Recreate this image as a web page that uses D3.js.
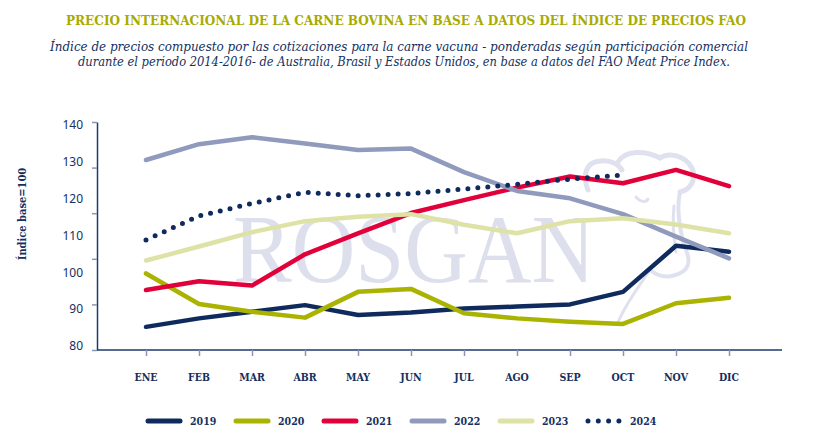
<!DOCTYPE html>
<html>
<head>
<meta charset="utf-8">
<script src="https://cdn.jsdelivr.net/npm/d3@7"></script>
<style>
  body { margin: 0; background: #fff; }
  svg text { fill: #14305f; }
</style>
</head>
<body>
<script>
var months = ["ENE","FEB","MAR","ABR","MAY","JUN","JUL","AGO","SEP","OCT","NOV","DIC"];
var yTicks = [80, 90, 100, 110, 120, 130, 140];

var s2019 = [85.2, 87.5, 89.3, 91.1, 88.4, 89.1, 90.2, 90.7, 91.3, 94.7, 107.2, 105.6];
var s2020 = [99.7, 91.4, 89.3, 87.7, 94.7, 95.5, 88.9, 87.5, 86.6, 86.0, 91.6, 93.1];
var s2021 = [95.2, 97.6, 96.4, 104.9, 110.6, 116.1, 119.6, 123.0, 126.0, 124.2, 127.8, 123.4];
var s2022 = [130.5, 134.8, 136.7, 135.0, 133.2, 133.6, 127.2, 122.1, 120.1, 115.8, 109.7, 103.8];
var s2023 = [103.2, 107.0, 110.9, 113.9, 115.1, 115.8, 112.9, 110.6, 113.9, 114.7, 113.0, 110.6];
var s2024 = [108.8, 115.3, 118.7, 121.7, 120.8, 121.4, 122.6, 123.9, 125.3, 126.4];

var series = [
  {name: "2019", values: s2019, color: "#0f2b5e", dotted: false},
  {name: "2020", values: s2020, color: "#a9b300", dotted: false},
  {name: "2021", values: s2021, color: "#e2003b", dotted: false},
  {name: "2022", values: s2022, color: "#8f9abd", dotted: false},
  {name: "2023", values: s2023, color: "#dfe2a6", dotted: false},
  {name: "2024", values: s2024, color: "#0f2b5e", dotted: true}
];

var width = 817, height = 440;

var svg = d3.select("body").append("svg")
    .attr("width", width)
    .attr("height", height);

// titles
svg.append("text")
    .attr("x", 406).attr("y", 25)
    .attr("text-anchor", "middle")
    .attr("textLength", 680).attr("lengthAdjust", "spacingAndGlyphs")
    .style("font-family", "DejaVu Serif Condensed, DejaVu Serif")
    .style("font-weight", "bold")
    .style("font-size", "13.5px")
    .style("fill", "#a7ab00")
    .text("PRECIO INTERNACIONAL DE LA CARNE BOVINA EN BASE A DATOS DEL ÍNDICE DE PRECIOS FAO");

svg.append("text")
    .attr("x", 399).attr("y", 51)
    .attr("text-anchor", "middle")
    .attr("textLength", 698).attr("lengthAdjust", "spacingAndGlyphs")
    .style("font-family", "DejaVu Serif Condensed, DejaVu Serif")
    .style("font-style", "italic")
    .style("font-size", "13px")
    .text("Índice de precios compuesto por las cotizaciones para la carne vacuna - ponderadas según participación comercial");

svg.append("text")
    .attr("x", 404).attr("y", 66)
    .attr("text-anchor", "middle")
    .attr("textLength", 652).attr("lengthAdjust", "spacingAndGlyphs")
    .style("font-family", "DejaVu Serif Condensed, DejaVu Serif")
    .style("font-style", "italic")
    .style("font-size", "13px")
    .text("durante el periodo 2014-2016- de Australia, Brasil y Estados Unidos, en base a datos del FAO Meat Price Index.");

// scales
var x = d3.scalePoint().domain(months).range([146, 729]);
var y = d3.scaleLinear().domain([80, 140]).range([346, 125]);
var tickPos = d3.scaleLinear().domain([0, 5]).range([350, 122]);

// watermark
var wm = svg.append("g").attr("class", "watermark")
    .attr("fill", "none")
    .attr("stroke", "#dfe2ee")
    .attr("stroke-linecap", "round");
wm.append("text")
    .attr("x", 233).attr("y", 282)
    .attr("textLength", 362).attr("lengthAdjust", "spacingAndGlyphs")
    .attr("stroke", "none")
    .style("font-family", "Liberation Serif, DejaVu Serif")
    .style("font-size", "98px")
    .style("fill", "#dde0ec")
    .text("ROSGAN");
// cow head outline
wm.append("path").attr("stroke-width", 5)
    .attr("d", "M588,190 C582,175 586,162 600,161 C610,160 618,164 622,170");
wm.append("path").attr("stroke-width", 5)
    .attr("d", "M618,162 C625,150 645,150 660,158 C668,152 685,155 692,168 C697,180 690,190 680,192");
wm.append("path").attr("stroke-width", 4)
    .attr("d", "M680,192 C676,210 680,230 684,245 C692,262 690,272 672,276 C662,278 655,274 650,270");
wm.append("path").attr("stroke-width", 3)
    .attr("d", "M674,206 C672,225 674,240 676,252");
wm.append("path").attr("stroke-width", 3)
    .attr("d", "M636,197 C640,202 646,203 648,199");
wm.append("path").attr("stroke-width", 3)
    .attr("d", "M650,270 C640,285 628,300 618,322");

// y axis: line + ticks
var yAxis = d3.axisLeft(tickPos).ticks(5).tickSize(5).tickFormat("").tickSizeOuter(0);
var gy = svg.append("g").attr("transform", "translate(97,0)").call(yAxis);
gy.select(".domain").attr("stroke", "#1f3a6e").attr("stroke-width", 1.5);
gy.selectAll(".tick line").attr("stroke", "#8c96b4").attr("stroke-width", 1.5);

svg.selectAll(".ylab")
    .data(yTicks)
    .enter().append("text")
    .attr("class", "ylab")
    .attr("x", 83)
    .attr("y", function(d) { return y(d); })
    .attr("dy", "0.35em")
    .attr("text-anchor", "end")
    .style("font-family", "Noto Sans, DejaVu Sans")
    .style("font-size", "12px")
    .text(function(d) { return d; });

svg.append("text")
    .attr("transform", "translate(26,214) rotate(-90)")
    .attr("text-anchor", "middle")
    .style("font-family", "DejaVu Serif Condensed, DejaVu Serif")
    .style("font-weight", "bold")
    .style("font-size", "11px")
    .text("Índice base=100");

// x axis
svg.append("line")
    .attr("x1", 97).attr("x2", 782)
    .attr("y1", 350).attr("y2", 350)
    .attr("stroke", "#1f3a6e").attr("stroke-width", 1.5);
var xAxis = d3.axisBottom(x).tickSize(6).tickFormat("");
var gx = svg.append("g").attr("transform", "translate(0,350)").call(xAxis);
gx.select(".domain").remove();
gx.selectAll(".tick line").attr("stroke", "#8c96b4").attr("stroke-width", 1.5);

svg.selectAll(".xlab")
    .data(months)
    .enter().append("text")
    .attr("class", "xlab")
    .attr("x", function(d) { return x(d); })
    .attr("y", 381)
    .attr("text-anchor", "middle")
    .style("font-family", "DejaVu Serif Condensed, DejaVu Serif")
    .style("font-weight", "bold")
    .style("font-size", "10.5px")
    .text(function(d) { return d; });

// lines
var line = d3.line()
    .x(function(d, i) { return x(months[i]); })
    .y(function(d) { return y(d); });

svg.selectAll(".series")
    .data(series)
    .enter().append("path")
    .attr("class", "series")
    .attr("d", function(d) { return line(d.values); })
    .attr("fill", "none")
    .attr("stroke", function(d) { return d.color; })
    .attr("stroke-width", function(d) { return d.dotted ? 5 : 4.5; })
    .attr("stroke-linecap", "round")
    .attr("stroke-linejoin", "round")
    .attr("stroke-dasharray", function(d) { return d.dotted ? "0 10" : null; });

// legend
var leg = svg.selectAll(".legend")
    .data(series)
    .enter().append("g")
    .attr("class", "legend")
    .attr("transform", function(d, i) { return "translate(" + (148 + i * 88) + ",421)"; });

leg.append("line")
    .attr("x1", 0).attr("x2", function(d) { return d.dotted ? 31 : 32; })
    .attr("stroke", function(d) { return d.color; })
    .attr("stroke-width", 5)
    .attr("stroke-linecap", "round")
    .attr("stroke-dasharray", function(d) { return d.dotted ? "0 10.3" : null; });

leg.append("text")
    .attr("x", 42)
    .attr("dy", "0.35em")
    .style("font-family", "DejaVu Serif Condensed, DejaVu Serif")
    .style("font-weight", "bold")
    .style("font-size", "10.5px")
    .text(function(d) { return d.name; });
</script>
</body>
</html>
